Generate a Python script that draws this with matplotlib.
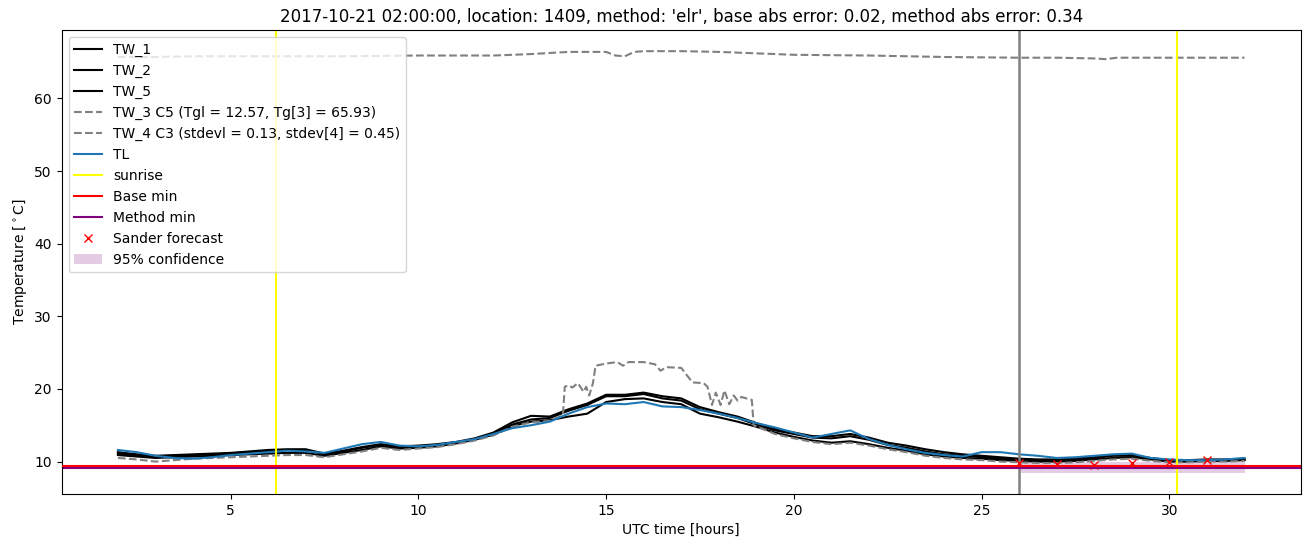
import numpy as np
import matplotlib
matplotlib.use('Agg')
import matplotlib.pyplot as plt

# time axis (UTC hours) for the smooth series
hours = [2.0, 2.5, 3.0, 3.5, 4.0, 4.5, 5.0, 5.5, 6.0, 6.5, 7.0, 7.5, 8.0, 8.5, 9.0, 9.5,
         10.0, 10.5, 11.0, 11.5, 12.0, 12.5, 13.0, 13.5, 14.0, 14.5, 15.0, 15.5, 16.0, 16.5,
         17.0, 17.5, 18.0, 18.5, 19.0, 19.5, 20.0, 20.5, 21.0, 21.5, 22.0, 22.5, 23.0, 23.5,
         24.0, 24.5, 25.0, 25.5, 26.0, 26.5, 27.0, 27.5, 28.0, 28.5, 29.0, 29.5, 30.0, 30.5,
         31.0, 31.5, 32.0]

tw_1 = [11.3, 11.0, 10.8, 10.9, 11.0, 11.1, 11.2, 11.4, 11.6, 11.7, 11.7, 11.1, 11.5, 12.0, 12.4, 12.1,
        12.2, 12.4, 12.7, 13.2, 14.0, 15.4, 16.3, 16.2, 17.2, 18.0, 19.2, 19.2, 19.5, 19.0,
        18.7, 17.5, 16.8, 16.2, 15.3, 14.5, 14.0, 13.5, 13.5, 13.8, 13.3, 12.6, 12.2, 11.7,
        11.3, 11.0, 10.8, 10.6, 10.4, 10.3, 10.3, 10.4, 10.6, 10.9, 10.9, 10.5, 10.2, 10.2,
        10.3, 10.3, 10.4]
tw_2 = [11.1, 10.9, 10.7, 10.8, 10.9, 11.0, 11.1, 11.3, 11.4, 11.6, 11.6, 11.0, 11.4, 11.9, 12.3, 12.0,
        12.1, 12.3, 12.6, 13.1, 13.9, 15.1, 15.8, 16.0, 17.0, 17.8, 19.0, 19.0, 19.3, 18.7,
        18.4, 17.2, 16.6, 16.0, 15.1, 14.3, 13.8, 13.3, 13.2, 13.5, 13.0, 12.3, 11.9, 11.4,
        11.0, 10.8, 10.6, 10.4, 10.3, 10.2, 10.2, 10.3, 10.5, 10.8, 10.8, 10.4, 10.1, 10.1,
        10.2, 10.2, 10.3]
tw_5 = [10.9, 10.7, 10.5, 10.6, 10.7, 10.8, 10.9, 11.0, 11.1, 11.2, 11.2, 10.8, 11.2, 11.6, 12.1, 11.8,
        11.9, 12.1, 12.5, 13.0, 13.7, 14.9, 15.5, 15.7, 16.2, 16.6, 18.2, 18.6, 18.7, 18.2,
        17.9, 16.6, 16.1, 15.5, 14.8, 14.0, 13.4, 12.9, 12.6, 12.8, 12.4, 11.9, 11.5, 11.0,
        10.7, 10.5, 10.4, 10.2, 10.1, 10.0, 10.0, 10.1, 10.3, 10.5, 10.6, 10.3, 10.0, 10.0,
        10.1, 10.1, 10.2]
tl = [11.6, 11.3, 10.8, 10.5, 10.4, 10.6, 10.9, 11.1, 11.3, 11.5, 11.4, 11.2, 11.8, 12.4, 12.7, 12.2,
      12.1, 12.3, 12.7, 13.1, 13.8, 14.6, 15.0, 15.5, 16.6, 17.5, 18.0, 17.9, 18.2, 17.6,
      17.5, 17.1, 16.6, 16.0, 15.3, 14.7, 14.0, 13.3, 13.8, 14.3, 13.1, 12.3, 11.7, 11.2,
      10.9, 10.7, 11.3, 11.3, 11.0, 10.8, 10.5, 10.6, 10.8, 11.0, 11.1, 10.5, 10.3, 10.2,
      10.2, 10.3, 10.5]

# TW_3: the sensor sitting around 66 degrees
tw_3_hours = [2.0, 3.0, 4.0, 6.0, 8.0, 10.0, 12.0, 13.0, 14.0, 15.0, 15.25, 15.5, 15.75, 16.0,
              17.0, 18.0, 19.0, 20.0, 22.0, 24.0, 26.0, 27.0, 28.0, 28.3, 28.6, 30.0, 32.0]
tw_3 = [65.7, 65.7, 65.8, 65.8, 65.8, 65.9, 65.9, 66.1, 66.4, 66.4, 65.9, 65.8, 66.4, 66.5,
        66.5, 66.4, 66.2, 66.0, 65.9, 65.7, 65.6, 65.6, 65.5, 65.4, 65.6, 65.6, 65.6]

# TW_4: dashed sensor with the spiky afternoon
tw_4_hours = [2.0, 2.5, 3.0, 3.5, 4.0, 4.5, 5.0, 5.5, 6.0, 6.5, 7.0, 7.5, 8.0, 8.5, 9.0, 9.5,
              10.0, 10.5, 11.0, 11.5, 12.0, 12.5, 13.0, 13.5, 13.85, 13.9, 14.0, 14.1, 14.25,
              14.4, 14.47, 14.55, 14.65, 14.72, 15.0, 15.3, 15.45, 15.6, 16.0, 16.3, 16.45,
              16.6, 17.0, 17.15, 17.3, 17.6, 17.7, 17.82, 17.92, 18.05, 18.15, 18.28, 18.4,
              18.5, 18.6, 18.8, 18.88, 18.93, 19.5, 20.0, 20.5, 21.0, 21.5, 22.0, 22.5, 23.0,
              23.5, 24.0, 24.5, 25.0, 25.5, 26.0, 26.5, 27.0, 27.5, 28.0, 28.5, 29.0, 29.5,
              30.0, 30.5, 31.0, 31.5, 32.0]
tw_4 = [10.5, 10.3, 10.0, 10.2, 10.4, 10.5, 10.6, 10.7, 10.8, 10.9, 10.9, 10.6, 11.0, 11.4, 11.9, 11.6,
        11.8, 12.0, 12.4, 12.9, 13.6, 14.8, 15.4, 15.6, 16.4, 20.3, 20.5, 20.2, 20.8,
        19.6, 20.3, 19.1, 20.8, 23.2, 23.5, 23.7, 23.2, 23.7, 23.7, 23.4, 22.5,
        23.0, 22.9, 21.9, 20.9, 20.8, 20.3, 17.8, 19.5, 17.8, 19.8, 17.9, 19.1,
        18.4, 18.9, 18.6, 18.5, 15.0, 13.8, 13.2, 12.7, 12.4, 12.6, 12.2, 11.7, 11.3,
        10.8, 10.5, 10.3, 10.2, 10.0, 9.9, 9.8, 9.8, 9.9, 10.1, 10.3, 10.4, 10.1,
        9.9, 9.9, 10.0, 10.0, 10.1]

sunrise = [6.2, 30.2]
forecast_time = 26.0
base_min = 9.45
method_min = 9.17

sander_hours = [26, 27, 28, 29, 30, 31]
sander_values = [9.8, 9.7, 9.5, 9.75, 9.9, 10.2]

conf_hours = [26, 27, 28, 29, 30, 31, 32]
conf_low = [8.45, 8.45, 8.45, 8.45, 8.45, 8.45, 8.45]
conf_high = [10.0, 10.0, 10.0, 10.0, 10.0, 10.0, 10.0]

fig, ax = plt.subplots(figsize=(13.1, 5.47), dpi=100)
fig.subplots_adjust(left=0.047, right=0.993, top=0.945, bottom=0.097)

ax.plot(hours, tw_1, color='black', label='TW_1')
ax.plot(hours, tw_2, color='black', label='TW_2')
ax.plot(hours, tw_5, color='black', label='TW_5')
ax.plot(tw_3_hours, tw_3, color='grey', linestyle='--', label='TW_3 C5 (Tgl = 12.57, Tg[3] = 65.93)')
ax.plot(tw_4_hours, tw_4, color='grey', linestyle='--', label='TW_4 C3 (stdevl = 0.13, stdev[4] = 0.45)')
ax.plot(hours, tl, color='tab:blue', label='TL')

ax.axvline(sunrise[0], color='yellow', label='sunrise')
ax.axvline(sunrise[1], color='yellow')
ax.axvline(forecast_time, color='grey', linewidth=1.8)
ax.axhline(base_min, color='red', label='Base min', zorder=2.6)
ax.axhline(method_min, color='purple', label='Method min', zorder=2.5)
ax.plot(sander_hours, sander_values, 'rx', label='Sander forecast')
ax.fill_between(conf_hours, conf_low, conf_high, color='purple', alpha=0.2, linewidth=0,
                label='95% confidence')

ax.set_title("2017-10-21 02:00:00, location: 1409, method: 'elr', base abs error: 0.02, method abs error: 0.34")
ax.set_xlabel('UTC time [hours]')
ax.set_ylabel(r'Temperature [$^\circ$C]')
ax.legend(loc='upper left')

plt.savefig('out.png')
